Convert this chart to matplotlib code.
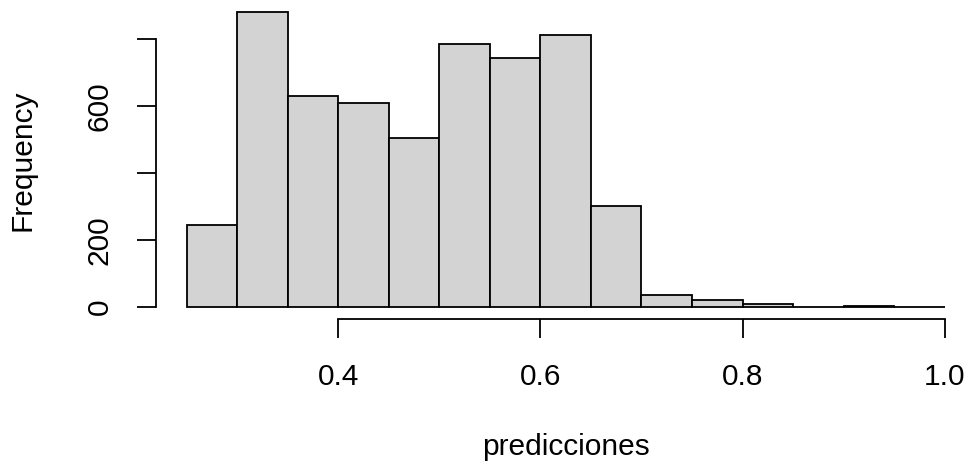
import matplotlib
matplotlib.use("Agg")
import matplotlib.pyplot as plt
import numpy as np

plt.rcParams['font.family'] = ['Liberation Sans', 'DejaVu Sans']

# Histogram of predicted probabilities: bin edges and counts per bin
bin_edges = [0.25, 0.30, 0.35, 0.40, 0.45, 0.50, 0.55, 0.60, 0.65,
             0.70, 0.75, 0.80, 0.85, 0.90, 0.95, 1.00]
counts = [244, 881, 631, 608, 505, 785, 744, 812, 301, 37, 21, 9, 1, 3, 1]
x_ticks = [0.4, 0.6, 0.8, 1.0]
x_tick_labels = ["0.4", "0.6", "0.8", "1.0"]
y_ticks = [0, 200, 400, 600, 800]
y_tick_labels = ["0", "200", "", "600", ""]

W, H, DPI = 970, 472, 100
fig = plt.figure(figsize=(W / DPI, H / DPI), dpi=DPI)

# plot region in pixels (left, top, right, bottom)
L, T, R, B = 156.4, 0.0, 975.0, 319.0
ax = fig.add_axes([L / W, 1 - B / H, (R - L) / W, (B - T) / H])

edges = np.array(bin_edges)
ax.bar(edges[:-1], counts, width=np.diff(edges), align='edge',
       color='#d3d3d3', edgecolor='black', linewidth=1.3)

x0, x1 = edges[0], edges[-1]
ax.set_xlim(x0 - 0.04 * (x1 - x0), x1 + 0.04 * (x1 - x0))
ymax = max(counts)
ax.set_ylim(-0.04 * ymax, 1.04 * ymax)

for s in ('top', 'right'):
    ax.spines[s].set_visible(False)
ax.spines['left'].set_bounds(y_ticks[0], y_ticks[-1])
ax.spines['bottom'].set_bounds(x_ticks[0], x_ticks[-1])
for s in ('left', 'bottom'):
    ax.spines[s].set_linewidth(1.3)

ax.set_xticks(x_ticks)
ax.set_xticklabels(x_tick_labels)
ax.set_yticks(y_ticks)
ax.set_yticklabels(y_tick_labels)
ax.tick_params(axis='both', length=13.7, width=1.3, labelsize=21.5)
ax.tick_params(axis='x', pad=18)
ax.tick_params(axis='y', pad=17, labelrotation=90)
for lab in ax.get_yticklabels():
    lab.set_verticalalignment('center')

fig.text(565.7 / W, 1 - 447 / H, "predicciones", ha='center', va='center',
         fontsize=21.5)
fig.text(22.5 / W, 1 - 160 / H, "Frequency", ha='center', va='center',
         rotation=90, fontsize=21.5)

fig.savefig("out.png", dpi=DPI)
